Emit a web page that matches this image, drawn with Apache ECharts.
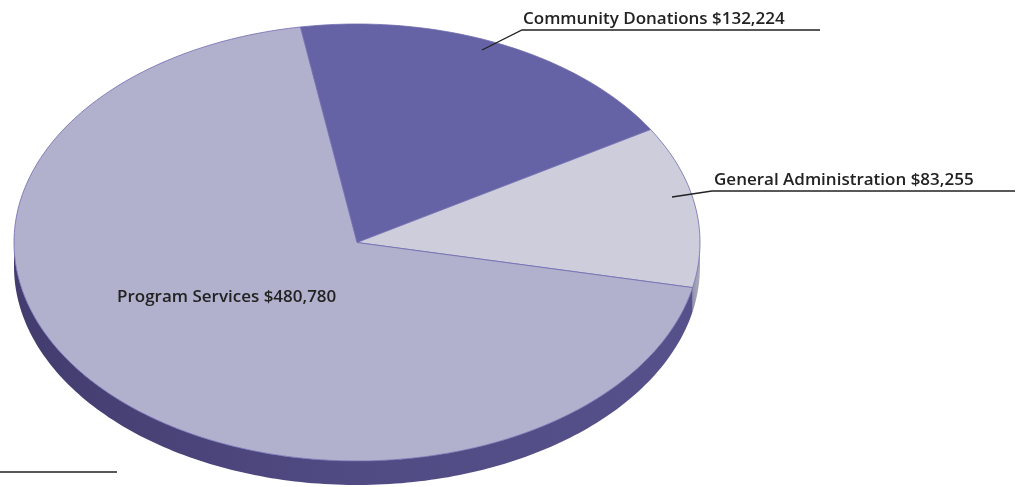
<!DOCTYPE html>
<html><head><meta charset="utf-8">
<script src="https://cdn.jsdelivr.net/npm/echarts@6/dist/echarts.min.js"></script>
<style>html,body{margin:0;padding:0;background:#fff}#c{width:1025px;height:487px}</style>
</head><body><div id="c"></div>
<script>
var categories = ['Community Donations', 'General Administration', 'Program Services'];
var values = [132224, 83255, 480780];
var topColors = ['#6563A5', '#CDCDDC', '#B1B1CE'];
var sideGradients = [
  ['#46407A', '#4F4A85', '#55508C'],
  ['#9494A8', '#A3A3B6', '#ABABBD'],
  ['#433C6E', '#514B84', '#57518B']
];

var CX = 357, CY = 242.5, RX = 343, RY = 218.5, DEPTH = 24, START = 99.5;
var total = values.reduce(function (a, b) { return a + b; }, 0);
var angles = [];
(function () {
  var s = START;
  for (var i = 0; i < values.length; i++) {
    var span = values[i] / total * 360;
    angles.push([s, s - span]);
    s -= span;
  }
})();
function pt(a, dy) {
  var r = a * Math.PI / 180;
  return [CX + RX * Math.cos(r), CY - RY * Math.sin(r) + (dy || 0)];
}
function arcPts(a1, a2, dy) {
  var pts = [], n = Math.max(2, Math.ceil(Math.abs(a1 - a2) / 1));
  for (var k = 0; k <= n; k++) pts.push(pt(a1 + (a2 - a1) * k / n, dy));
  return pts;
}
function fmt(v) { return '$' + v.toString().replace(/\B(?=(\d{3})+(?!\d))/g, ','); }

var chart = echarts.init(document.getElementById('c'), null, { renderer: 'canvas' });
var data = values.map(function (v, i) { return { value: [v, i], name: categories[i] }; });

function sideParts(i) {
  var s = angles[i][0], e = angles[i][1];
  var parts = [];
  for (var off = -720; off <= 360; off += 360) {
    var lo = Math.max(e, -180 + off), hi = Math.min(s, 0 + off);
    if (hi > lo) parts.push([hi, lo]);
  }
  return parts;
}

var FONT = '600 17px "Open Sans"';
chart.setOption({
  animation: false,
  series: [
    {
      type: 'custom', coordinateSystem: 'none', data: data, z: 1,
      renderItem: function (params, api) {
        var i = api.value(1);
        var children = [];
        var g = sideGradients[i];
        sideParts(i).forEach(function (p) {
          var top = arcPts(p[0], p[1], 0);
          var bot = arcPts(p[1], p[0], DEPTH);
          children.push({
            type: 'polygon', shape: { points: top.concat(bot) },
            style: { fill: new echarts.graphic.LinearGradient(0, 0, 1, 0, [
              { offset: 0, color: g[0] }, { offset: 0.5, color: g[1] }, { offset: 1, color: g[2] }
            ]), stroke: null }
          });
        });
        return { type: 'group', children: children };
      }
    },
    {
      type: 'custom', coordinateSystem: 'none', data: data, z: 2,
      renderItem: function (params, api) {
        var i = api.value(1);
        var a = angles[i];
        var pts = [[CX, CY]].concat(arcPts(a[0], a[1], 0));
        return {
          type: 'polygon', shape: { points: pts },
          style: { fill: topColors[i], stroke: '#6F6AAE', lineWidth: 0.8 }
        };
      }
    }
  ],
  graphic: {
    elements: [
      { type: 'polyline', z: 100, shape: { points: [[482, 50], [522, 30], [820, 30]] }, style: { stroke: '#222', lineWidth: 1.3, fill: null } },
      { type: 'text', z: 100, x: 523, y: 28, style: { text: categories[0] + ' ' + fmt(values[0]), font: FONT, fill: '#222', textVerticalAlign: 'bottom' } },
      { type: 'polyline', z: 100, shape: { points: [[672, 197], [712, 191], [1015, 191]] }, style: { stroke: '#222', lineWidth: 1.3, fill: null } },
      { type: 'text', z: 100, x: 714, y: 189, style: { text: categories[1] + ' ' + fmt(values[1]), font: FONT, fill: '#222', textVerticalAlign: 'bottom' } },
      { type: 'text', z: 100, x: 117, y: 297, style: { text: categories[2] + ' ' + fmt(values[2]), font: FONT, fill: '#222', textVerticalAlign: 'middle' } },
      { type: 'line', z: 100, shape: { x1: 0, y1: 472, x2: 117, y2: 472 }, style: { stroke: '#222', lineWidth: 1.3 } }
    ]
  }
});
</script></body></html>
